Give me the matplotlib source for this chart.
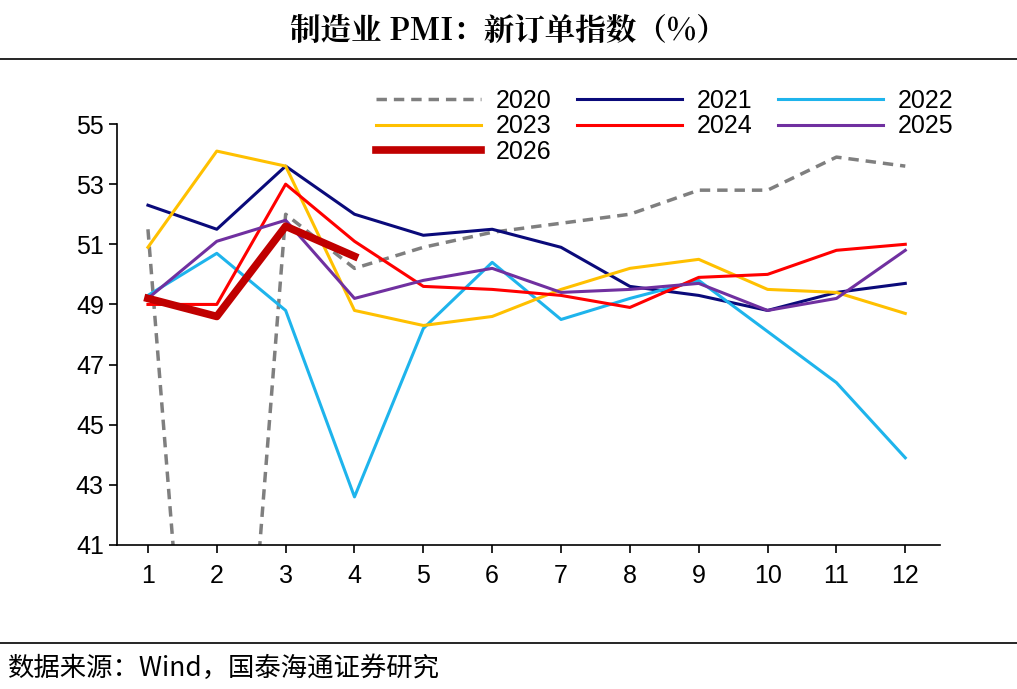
import numpy as np
import matplotlib.pyplot as plt

plt.rcParams['font.family'] = ['Liberation Sans', 'Noto Sans CJK SC', 'DejaVu Sans']

months = list(range(1, 13))
y2020 = [51.5, 22.7, 52.0, 50.2, 50.9, 51.4, 51.7, 52.0, 52.8, 52.8, 53.9, 53.6]
y2021 = [52.3, 51.5, 53.6, 52.0, 51.3, 51.5, 50.9, 49.6, 49.3, 48.8, 49.4, 49.7]
y2022 = [49.3, 50.7, 48.8, 42.6, 48.2, 50.4, 48.5, 49.2, 49.8, 48.1, 46.4, 43.9]
y2023 = [50.9, 54.1, 53.6, 48.8, 48.3, 48.6, 49.5, 50.2, 50.5, 49.5, 49.4, 48.7]
y2024 = [49.0, 49.0, 53.0, 51.1, 49.6, 49.5, 49.3, 48.9, 49.9, 50.0, 50.8, 51.0]
y2025 = [49.2, 51.1, 51.8, 49.2, 49.8, 50.2, 49.4, 49.5, 49.7, 48.8, 49.2, 50.8]
y2026 = [49.2, 48.6, 51.6, 50.6]

fig = plt.figure(figsize=(10.17, 6.89), dpi=100)
ax = fig.add_axes([0.115, 0.209, 0.809, 0.611])

h = {}
h['2020'], = ax.plot(months, y2020, color='#7f7f7f', lw=2.5, ls=(0, (3, 2)), label='2020')
h['2021'], = ax.plot(months, y2021, color='#0a0a7a', lw=2.2, label='2021')
h['2022'], = ax.plot(months, y2022, color='#1eb4ec', lw=2.2, label='2022')
h['2023'], = ax.plot(months, y2023, color='#ffc000', lw=2.2, label='2023')
h['2024'], = ax.plot(months, y2024, color='#ff0000', lw=2.2, label='2024')
h['2025'], = ax.plot(months, y2025, color='#7030a0', lw=2.2, label='2025')
h['2026'], = ax.plot(months[:4], y2026, color='#c00000', lw=5.5, label='2026')

ax.set_ylim(41, 55)
ax.set_xlim(0.55, 12.5)
ax.set_yticks(range(41, 56, 2))
ax.set_xticks(months)
ax.tick_params(labelsize=18, direction='out', length=6, width=1.2)
ax.tick_params(axis='x', pad=8)
for s in ['top', 'right']:
    ax.spines[s].set_visible(False)
for s in ['left', 'bottom']:
    ax.spines[s].set_linewidth(1.2)

order = ['2020', '2023', '2026', '2021', '2024', '2022', '2025']
fig.legend([h[k] for k in order], order, loc='upper left', bbox_to_anchor=(0.36, 0.885),
           ncol=3, frameon=False, fontsize=18, handlelength=4.2, columnspacing=1.0,
           labelspacing=0.05, handletextpad=0.6, borderaxespad=0)

fig.text(0.5, 0.955, '制造业 PMI：新订单指数（%）', ha='center', va='center',
         fontsize=22, fontweight='bold', family=['Noto Serif CJK SC', 'Noto Sans CJK SC'])
fig.add_artist(plt.Line2D([0, 1], [0.915, 0.915], color='black', lw=1.2))
fig.add_artist(plt.Line2D([0, 1], [0.067, 0.067], color='black', lw=1.2))
fig.text(0.008, 0.03, '数据来源：Wind，国泰海通证券研究', ha='left', va='center',
         fontsize=19, family=['Noto Sans CJK SC'])

fig.savefig('out.png', dpi=100)
